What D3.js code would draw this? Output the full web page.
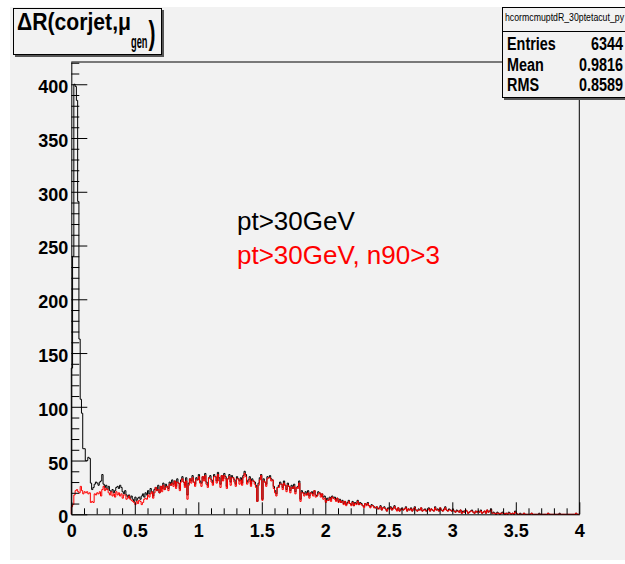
<!DOCTYPE html>
<html>
<head>
<meta charset="utf-8">
<script src="https://cdn.jsdelivr.net/npm/d3@7"></script>
<style>
  html, body { margin: 0; padding: 0; background: #ffffff; }
  svg { display: block; }
  text { font-family: "Liberation Sans", Arial, Helvetica, sans-serif; }
</style>
</head>
<body>
<svg id="chart" width="625" height="564"></svg>
<script>
// ΔR between corrected jet and generated muon, 0.01-wide bins over [0, 4]
const binWidth = 0.01;
const xDomain = [0, 4];

// pt > 30 GeV
const ptCut = [
  136, 240, 400, 398, 385, 291, 163, 107, 94, 61, 61, 50, 50, 53, 52, 29, 23, 25, 28, 30,
  29, 27, 30, 31, 37, 28, 25, 27, 23, 26, 22, 21, 23, 20, 22, 25, 26, 24, 27, 25,
  21, 19, 22, 18, 16, 18, 15, 17, 14, 12, 16, 13, 15, 16, 14, 17, 19, 16, 20, 18,
  22, 19, 24, 21, 17, 23, 25, 22, 27, 20, 26, 24, 29, 23, 28, 26, 24, 30, 27, 32,
  28, 31, 26, 33, 29, 24, 32, 35, 30, 27, 34, 18, 29, 33, 31, 36, 30, 28, 34, 32,
  37, 31, 29, 35, 33, 38, 30, 27, 34, 36, 32, 29, 37, 35, 31, 39, 34, 28, 36, 33,
  38, 35, 26, 33, 37, 30, 36, 34, 32, 28, 35, 33, 31, 34, 29, 36, 40, 37, 30, 32,
  35, 28, 33, 31, 30, 27, 12, 29, 34, 37, 14, 33, 30, 28, 35, 34, 36, 33, 32, 26,
  22, 19, 25, 27, 30, 28, 25, 31, 27, 23, 29, 26, 22, 27, 24, 28, 21, 25, 26, 31,
  14, 22, 20, 19, 21, 18, 22, 17, 20, 21, 19, 22, 18, 17, 21, 20, 18, 19, 16, 17,
  12, 15, 13, 16, 14, 17, 15, 16, 13, 15, 12, 14, 11, 13, 10, 12, 9, 11, 13, 10,
  9, 12, 8, 11, 10, 13, 9, 11, 10, 8, 7, 10, 9, 11, 8, 7, 9, 8, 7, 6,
  7, 5, 6, 8, 4, 6, 7, 5, 3, 6, 5, 7, 4, 6, 8, 5, 4, 6, 3, 5,
  6, 4, 5, 7, 3, 5, 4, 6, 3, 5, 7, 4, 3, 5, 4, 6, 3, 4, 5, 3,
  4, 6, 3, 5, 4, 3, 7, 4, 5, 3, 6, 4, 3, 5, 7, 4, 3, 5, 4, 3,
  5, 3, 2, 4, 3, 2, 4, 1, 3, 2, 4, 3, 1, 2, 3, 4, 2, 1, 3, 2,
  3, 2, 4, 1, 2, 3, 1, 4, 2, 3, 5, 1, 2, 1, 0, 2, 1, 0, 1, 2,
  1, 0, 1, 0, 2, 1, 0, 1, 0, 3, 1, 0, 0, 1, 0, 0, 1, 0, 0, 0,
  0, 0, 1, 0, 0, 0, 0, 0, 1, 0, 0, 0, 0, 0, 0, 1, 0, 0, 0, 0,
  0, 0, 0, 0, 1, 0, 0, 0, 0, 0, 0, 0, 0, 0, 0, 0, 0, 1, 0, 0
];

// pt > 30 GeV and n90 > 3
const ptN90Cut = [
  7, 9, 18, 22, 23, 21, 20, 26, 22, 19, 21, 20, 21, 19, 20, 11, 12, 11, 19, 18,
  20, 19, 21, 17, 23, 26, 22, 24, 23, 20, 18, 21, 17, 19, 16, 21, 18, 20, 17, 19,
  15, 18, 18, 14, 15, 17, 14, 13, 12, 11, 9, 12, 10, 13, 12, 9, 11, 14, 15, 14,
  18, 16, 19, 21, 15, 20, 25, 22, 23, 20, 26, 21, 27, 23, 25, 26, 22, 28, 27, 29,
  26, 31, 24, 30, 29, 22, 30, 33, 30, 25, 31, 14, 27, 33, 29, 34, 30, 26, 32, 32,
  35, 29, 26, 35, 31, 36, 28, 25, 34, 33, 30, 27, 35, 35, 29, 37, 31, 25, 36, 31,
  36, 33, 24, 33, 35, 27, 34, 34, 30, 26, 33, 33, 28, 32, 27, 34, 38, 35, 28, 30,
  33, 26, 31, 31, 28, 25, 12, 27, 32, 36, 13, 31, 30, 26, 33, 34, 34, 31, 32, 24,
  20, 17, 25, 25, 28, 28, 23, 29, 27, 21, 27, 26, 20, 25, 24, 26, 19, 25, 24, 29,
  12, 20, 20, 17, 19, 18, 20, 15, 20, 19, 17, 22, 16, 17, 19, 20, 16, 19, 14, 15,
  11, 13, 13, 15, 12, 16, 15, 14, 12, 15, 11, 13, 11, 12, 9, 12, 8, 10, 12, 10,
  8, 11, 8, 10, 9, 12, 9, 10, 9, 8, 6, 10, 8, 10, 8, 6, 8, 8, 6, 6,
  7, 5, 5, 7, 4, 6, 6, 5, 3, 5, 5, 6, 4, 5, 7, 5, 3, 6, 3, 4,
  5, 4, 5, 6, 3, 5, 4, 5, 3, 5, 6, 4, 3, 4, 4, 6, 3, 4, 4, 3,
  4, 5, 3, 5, 4, 3, 6, 4, 4, 3, 6, 4, 3, 4, 6, 4, 3, 4, 4, 3,
  4, 3, 2, 3, 3, 2, 4, 1, 2, 2, 4, 3, 1, 2, 3, 3, 2, 1, 3, 2,
  3, 2, 3, 1, 2, 3, 1, 4, 2, 3, 4, 1, 1, 1, 0, 1, 1, 0, 1, 1,
  1, 0, 1, 0, 1, 1, 0, 1, 0, 2, 1, 0, 0, 0, 0, 0, 1, 0, 0, 0,
  0, 0, 1, 0, 0, 0, 0, 0, 0, 0, 0, 0, 0, 0, 0, 1, 0, 0, 0, 0,
  0, 0, 0, 0, 0, 0, 0, 0, 0, 0, 0, 0, 0, 0, 0, 0, 0, 1, 0, 0
];

const xMajorTicks = [0, 0.5, 1, 1.5, 2, 2.5, 3, 3.5, 4];
const yMajorTicks = [0, 50, 100, 150, 200, 250, 300, 350, 400];
const yMax = 420.7;

const legendLabels = ["pt>30GeV", "pt>30GeV, n90>3"];
const legendColors = ["#000000", "#ff0000"];

const statsTitle = "hcormcmuptdR_30ptetacut_py";
const statLabels = ["Entries", "Mean", "RMS"];
const statValues = ["6344", "0.9816", "0.8589"];

// ---- layout ----
const svg = d3.select("#chart");
const frame = { left: 71.3, right: 579.3, top: 62, bottom: 514.3 };
const bg = "#f2f2f2";

svg.append("rect")
  .attr("x", 10).attr("y", 7).attr("width", 615).attr("height", 553)
  .attr("fill", bg);

const x = d3.scaleLinear().domain(xDomain).range([frame.left, frame.right]);
const y = d3.scaleLinear().domain([0, yMax]).range([frame.bottom, frame.top]);

// frame top and right edges
svg.append("line")
  .attr("x1", frame.left).attr("x2", frame.right)
  .attr("y1", frame.top).attr("y2", frame.top)
  .attr("stroke", "#000").attr("stroke-width", 1);
svg.append("line")
  .attr("x1", frame.right).attr("x2", frame.right)
  .attr("y1", frame.top).attr("y2", frame.bottom)
  .attr("stroke", "#000").attr("stroke-width", 1);

// step outline of a histogram
function histPath(values) {
  const pts = [[0, 0]];
  values.forEach((v, i) => pts.push([i * binWidth, v]));
  pts.push([values.length * binWidth, values[values.length - 1]]);
  pts.push([values.length * binWidth, 0]);
  return d3.line()
    .x(d => x(d[0]))
    .y(d => y(d[1]))
    .curve(d3.curveStepAfter)(pts);
}

svg.append("path")
  .attr("d", histPath(ptCut))
  .attr("fill", "none").attr("stroke", legendColors[0]).attr("stroke-width", 1);
svg.append("path")
  .attr("d", histPath(ptN90Cut))
  .attr("fill", "none").attr("stroke", legendColors[1]).attr("stroke-width", 1);

// axes: ticks point into the frame
const labelFont = g => g.selectAll("text")
  .attr("font-family", "'Liberation Sans', Arial, sans-serif")
  .attr("font-weight", "bold")
  .attr("font-size", 18)
  .attr("fill", "#000");

const xMinor = d3.range(0, 41).map(i => i / 10).filter(v => !xMajorTicks.some(t => Math.abs(t - v) < 1e-9));
const yMinor = d3.range(0, 43).map(i => i * 10).filter(v => v % 50 !== 0 && v <= yMax);

svg.append("g")
  .attr("transform", `translate(0,${frame.bottom})`)
  .call(d3.axisBottom(x).tickValues(xMinor).tickSizeInner(-6).tickSizeOuter(0).tickFormat(""))
  .call(g => g.select(".domain").remove())
  .call(g => g.selectAll("line").attr("stroke", "#000"));

svg.append("g")
  .attr("transform", `translate(0,${frame.bottom})`)
  .call(d3.axisBottom(x).tickValues(xMajorTicks).tickSizeInner(-12).tickSizeOuter(0).tickFormat(d => String(d)))
  .call(g => g.selectAll("line, path").attr("stroke", "#000"))
  .call(labelFont)
  .call(g => g.selectAll("text").attr("y", 23).attr("dy", null));

svg.append("g")
  .attr("transform", `translate(${frame.left},0)`)
  .call(d3.axisLeft(y).tickValues(yMinor).tickSizeInner(-8).tickSizeOuter(0).tickFormat(""))
  .call(g => g.select(".domain").remove())
  .call(g => g.selectAll("line").attr("stroke", "#000"));

svg.append("g")
  .attr("transform", `translate(${frame.left},0)`)
  .call(d3.axisLeft(y).tickValues(yMajorTicks).tickSizeInner(-16).tickSizeOuter(0).tickPadding(3).tickFormat(d => String(d)))
  .call(g => g.selectAll("line, path").attr("stroke", "#000"))
  .call(labelFont)
  .call(g => g.selectAll("text").attr("dy", "0.47em"));

// labels for the two selections
svg.append("g").selectAll("text")
  .data(legendLabels)
  .join("text")
  .attr("x", 237)
  .attr("y", (d, i) => 230 + i * 34)
  .attr("font-size", 26)
  .attr("fill", (d, i) => legendColors[i])
  .text(d => d);

// squeeze a text horizontally to a fraction of its natural width
function condense(sel, factor) {
  sel.each(function () {
    const w = this.getComputedTextLength();
    d3.select(this).attr("textLength", w * factor).attr("lengthAdjust", "spacingAndGlyphs");
  });
}

// title box
const title = svg.append("g");
title.append("rect")
  .attr("x", 15).attr("y", 10).attr("width", 149).attr("height", 47)
  .attr("fill", "#555");
title.append("rect")
  .attr("x", 13.5).attr("y", 8.5).attr("width", 148).attr("height", 46)
  .attr("fill", bg).attr("stroke", "#000").attr("stroke-width", 1);
title.append("text")
  .attr("x", 17).attr("y", 30)
  .attr("font-weight", "bold").attr("font-size", 23)
  .attr("fill", "#000")
  .attr("textLength", 114).attr("lengthAdjust", "spacingAndGlyphs")
  .text("ΔR(corjet,μ");
title.append("text")
  .attr("x", 131).attr("y", 47.5)
  .attr("font-weight", "bold").attr("font-size", 18)
  .attr("fill", "#000")
  .attr("textLength", 16.5).attr("lengthAdjust", "spacingAndGlyphs")
  .text("gen");
title.append("text")
  .attr("x", 148.5).attr("y", 44)
  .attr("font-weight", "bold").attr("font-size", 33)
  .attr("fill", "#000")
  .attr("textLength", 7).attr("lengthAdjust", "spacingAndGlyphs")
  .text(")");

// statistics box
const stats = svg.append("g");
stats.append("rect")
  .attr("x", 504).attr("y", 9).attr("width", 130).attr("height", 91)
  .attr("fill", "#555");
stats.append("rect")
  .attr("x", 502.5).attr("y", 7.5).attr("width", 130).attr("height", 90)
  .attr("fill", bg).attr("stroke", "#000").attr("stroke-width", 1);
stats.append("line")
  .attr("x1", 502.5).attr("x2", 625).attr("y1", 31.5).attr("y2", 31.5)
  .attr("stroke", "#000");
stats.append("text")
  .attr("x", 505).attr("y", 21)
  .attr("font-size", 11).attr("fill", "#000")
  .attr("textLength", 119).attr("lengthAdjust", "spacingAndGlyphs")
  .text(statsTitle);
statLabels.forEach((lab, i) => {
  stats.append("text")
    .attr("x", 507).attr("y", 50 + i * 20.7)
    .attr("font-weight", "bold").attr("font-size", 18).attr("fill", "#000")
    .text(lab)
    .call(condense, 0.8);
  stats.append("text")
    .attr("x", 623).attr("y", 50 + i * 20.7)
    .attr("text-anchor", "end")
    .attr("font-weight", "bold").attr("font-size", 18).attr("fill", "#000")
    .text(statValues[i])
    .call(condense, 0.8);
});
</script>
</body>
</html>
